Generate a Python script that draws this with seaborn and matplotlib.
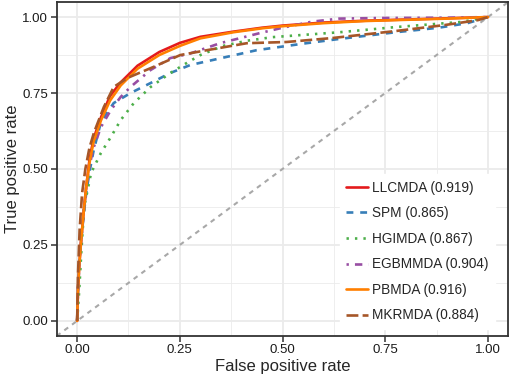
import numpy as np
import pandas as pd
import seaborn as sns
import matplotlib
matplotlib.use("Agg")
import matplotlib.pyplot as plt
from matplotlib.ticker import FormatStrFormatter, MultipleLocator

# ROC curves
methods = ["LLCMDA (0.919)", "SPM (0.865)", "HGIMDA (0.867)",
           "EGBMMDA (0.904)", "PBMDA (0.916)", "MKRMDA (0.884)"]

llcmda_fpr = [0, 0.002, 0.005, 0.01, 0.016, 0.022, 0.03, 0.04, 0.058, 0.08, 0.106, 0.147,
              0.2, 0.25, 0.3, 0.38, 0.45, 0.5, 0.6, 0.7, 0.8, 0.9, 1.0]
llcmda_tpr = [0, 0.1, 0.18, 0.27, 0.36, 0.44, 0.53, 0.6, 0.67, 0.74, 0.785, 0.84,
              0.885, 0.915, 0.935, 0.952, 0.965, 0.972, 0.982, 0.988, 0.992, 0.996, 1.0]

pbmda_fpr = llcmda_fpr
pbmda_tpr = [0, 0.1, 0.18, 0.27, 0.36, 0.44, 0.52, 0.59, 0.66, 0.725, 0.775, 0.83,
             0.875, 0.905, 0.93, 0.95, 0.963, 0.97, 0.98, 0.987, 0.991, 0.995, 1.0]

egbmmda_fpr = [0, 0.002, 0.005, 0.01, 0.016, 0.022, 0.03, 0.04, 0.058, 0.082, 0.106, 0.13,
               0.179, 0.227, 0.275, 0.348, 0.444, 0.5, 0.572, 0.638, 0.75, 0.9, 1.0]
egbmmda_tpr = [0, 0.1, 0.18, 0.27, 0.36, 0.44, 0.51, 0.57, 0.638, 0.694, 0.737, 0.77,
               0.826, 0.865, 0.88, 0.914, 0.947, 0.965, 0.985, 0.995, 0.997, 0.998, 1.0]

mkrmda_fpr = [0, 0.002, 0.006, 0.012, 0.02, 0.03, 0.041, 0.065, 0.089, 0.123, 0.186, 0.251,
              0.316, 0.413, 0.51, 0.621, 0.775, 0.896, 0.976, 1.0]
mkrmda_tpr = [0, 0.15, 0.3, 0.42, 0.5, 0.57, 0.62, 0.704, 0.77, 0.80, 0.836, 0.875,
              0.891, 0.914, 0.918, 0.931, 0.954, 0.974, 0.99, 1.0]

spm_fpr = [0, 0.002, 0.005, 0.01, 0.016, 0.022, 0.03, 0.04, 0.058, 0.089, 0.13, 0.179,
           0.227, 0.275, 0.331, 0.437, 0.558, 0.638, 0.775, 0.88, 0.95, 1.0]
spm_tpr = [0, 0.1, 0.18, 0.27, 0.35, 0.42, 0.49, 0.56, 0.655, 0.717, 0.75, 0.783,
           0.816, 0.842, 0.859, 0.891, 0.914, 0.928, 0.95, 0.965, 0.98, 1.0]

hgimda_fpr = [0, 0.005, 0.01, 0.017, 0.034, 0.058, 0.082, 0.106, 0.138, 0.179, 0.227,
              0.268, 0.3, 0.355, 0.413, 0.476, 0.638, 0.775, 0.935, 1.0]
hgimda_tpr = [0, 0.1, 0.224, 0.375, 0.487, 0.553, 0.605, 0.661, 0.717, 0.77, 0.816,
              0.85, 0.875, 0.905, 0.922, 0.934, 0.95, 0.967, 0.984, 1.0]

curves = {
    methods[0]: (llcmda_fpr, llcmda_tpr),
    methods[1]: (spm_fpr, spm_tpr),
    methods[2]: (hgimda_fpr, hgimda_tpr),
    methods[3]: (egbmmda_fpr, egbmmda_tpr),
    methods[4]: (pbmda_fpr, pbmda_tpr),
    methods[5]: (mkrmda_fpr, mkrmda_tpr),
}

frames = []
for name, (f, t) in curves.items():
    frames.append(pd.DataFrame({"fpr": f, "tpr": t, "method": name}))
df = pd.concat(frames, ignore_index=True)

colors = ["#E41A1C", "#377EB8", "#4DAF4A", "#984EA3", "#FF7F00", "#A65628"]
dashes = ["", (2.6, 2.6), (0.9, 2.3), (0.9, 2.3, 2.8, 2.3), "", (4.5, 1.6)]

sns.set_theme(style="whitegrid")
plt.rcParams["font.family"] = ["Liberation Sans", "DejaVu Sans"]

fig = plt.figure(figsize=(5.1, 3.78), dpi=100)
ax = fig.add_axes([0.111, 0.111, 0.886, 0.884])

ax.axline((0, 0), slope=1, color="#A8A8A8", lw=1.5, dashes=(2.3, 2.3), zorder=1)

sns.lineplot(
    data=df, x="fpr", y="tpr", hue="method", style="method",
    hue_order=methods, style_order=methods,
    palette=dict(zip(methods, colors)), dashes=dict(zip(methods, dashes)),
    linewidth=1.9, sort=False, estimator=None, ax=ax, zorder=3
)

ax.set_xlim(-0.05, 1.05)
ax.set_ylim(-0.05, 1.05)
ax.xaxis.set_major_locator(MultipleLocator(0.25))
ax.yaxis.set_major_locator(MultipleLocator(0.25))
ax.xaxis.set_minor_locator(MultipleLocator(0.125))
ax.yaxis.set_minor_locator(MultipleLocator(0.125))
ax.xaxis.set_major_formatter(FormatStrFormatter("%.2f"))
ax.yaxis.set_major_formatter(FormatStrFormatter("%.2f"))

ax.set_facecolor("white")
ax.grid(which="major", color="#EBEBEB", lw=1.3)
ax.grid(which="minor", color="#EBEBEB", lw=0.6)
ax.set_axisbelow(True)
for s in ax.spines.values():
    s.set_color("#333333")
    s.set_linewidth(1.3)

ax.tick_params(which="major", length=4, width=1.1, color="#333333",
               labelsize=9.5, labelcolor="#1a1a1a", pad=2, bottom=True, left=True)
ax.tick_params(which="minor", length=0)

ax.set_xlabel("False positive rate", fontsize=12, labelpad=2)
ax.set_ylabel("True positive rate", fontsize=12, labelpad=2)

handles, labels = ax.get_legend_handles_labels()
leg = ax.legend(handles, labels, loc="lower right", bbox_to_anchor=(0.985, 0.0),
                fontsize=9.8, frameon=True, facecolor="white", edgecolor="white",
                framealpha=1, fancybox=False, handlelength=1.6, handletextpad=0.25,
                labelspacing=0.85, borderpad=0.5)
for h in leg.get_lines():
    h.set_linewidth(1.9)

fig.savefig("out.png", dpi=100)
